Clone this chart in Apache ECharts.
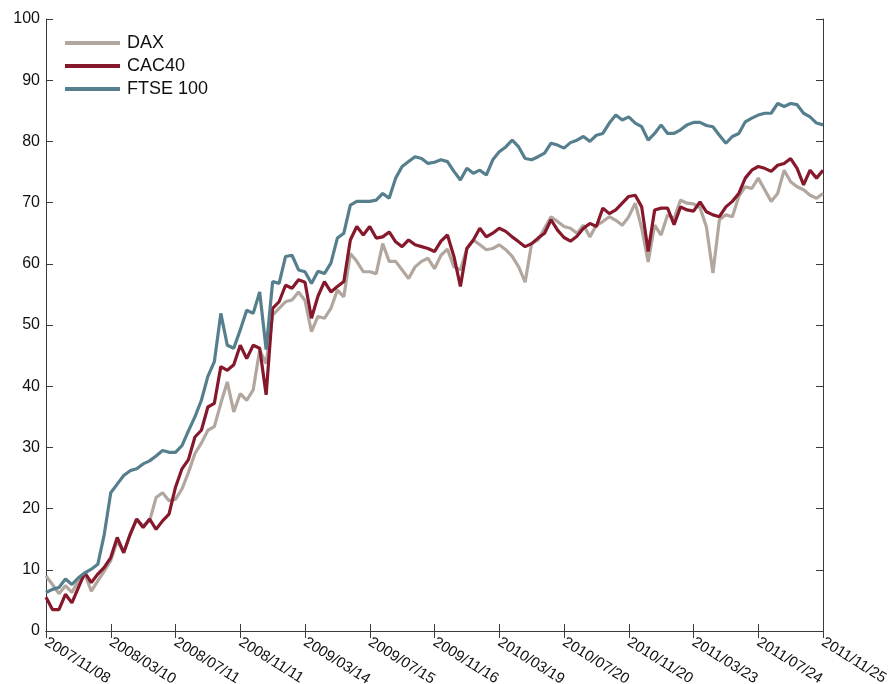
<!DOCTYPE html>
<html>
<head>
<meta charset="utf-8">
<script src="https://cdn.jsdelivr.net/npm/echarts@6/dist/echarts.min.js"></script>
<style>
  html, body { margin: 0; padding: 0; background: #fff; }
  #chart { width: 889px; height: 684px; }
</style>
</head>
<body>
<div id="chart"></div>
<script>
// tick labels shown every 10 samples along the x axis
const dateLabels = ['2007/11/08', '2008/03/10', '2008/07/11', '2008/11/11', '2009/03/14', '2009/07/15',
  '2009/11/16', '2010/03/19', '2010/07/20', '2010/11/20', '2011/03/23', '2011/07/24', '2011/11/25'];

const dax = [
  9.0, 7.6, 6.1, 7.4, 6.3, 8.2, 9.3, 6.5, 8.2, 9.8,
  11.5, 14.7, 12.8, 15.8, 18.3, 17.2, 18.0, 21.8, 22.6, 21.3,
  21.5, 23.2, 25.9, 29.0, 30.7, 32.8, 33.4, 37.2, 40.7, 35.8,
  38.8, 37.7, 39.4, 45.9, 43.7, 51.6, 52.7, 53.8, 54.1, 55.4,
  54.0, 48.9, 51.4, 51.1, 52.7, 55.7, 54.6, 61.7, 60.4, 58.7,
  58.7, 58.4, 63.3, 60.4, 60.4, 59.0, 57.6, 59.5, 60.4, 60.9,
  59.2, 61.4, 62.4, 59.5, 59.0, 62.5, 63.9, 63.1, 62.3, 62.5,
  63.1, 62.3, 61.2, 59.5, 57.0, 63.3, 63.9, 65.8, 67.7, 66.9,
  66.1, 65.8, 65.0, 66.3, 64.4, 66.3, 66.9, 67.7, 67.1, 66.3,
  67.7, 69.9, 65.8, 60.3, 66.3, 64.7, 68.0, 67.4, 70.4, 69.9,
  69.8, 69.2, 66.0, 58.5, 67.2, 68.0, 67.7, 71.0, 72.6, 72.3,
  74.0, 72.1, 70.2, 71.5, 75.3, 73.4, 72.6, 72.1, 71.2, 70.7,
  71.5
];

const cac40 = [
  5.5, 3.5, 3.5, 6.0, 4.6, 7.1, 9.5, 7.9, 9.3, 10.4,
  12.0, 15.3, 12.8, 15.8, 18.3, 16.9, 18.3, 16.6, 18.0, 19.1,
  23.5, 26.5, 28.0, 31.7, 32.8, 36.6, 37.2, 43.2, 42.6, 43.5,
  46.7, 44.5, 46.7, 46.2, 38.6, 52.7, 53.8, 56.5, 56.0, 57.4,
  57.0, 51.1, 54.7, 57.1, 55.4, 56.3, 57.1, 63.9, 66.1, 64.7,
  66.1, 64.2, 64.4, 65.2, 63.6, 62.8, 63.9, 63.1, 62.8, 62.5,
  62.0, 63.7, 64.7, 61.2, 56.3, 62.5, 63.9, 65.8, 64.4, 65.0,
  65.8, 65.3, 64.4, 63.6, 62.8, 63.3, 64.2, 65.0, 67.2, 65.5,
  64.3, 63.7, 64.5, 65.8, 66.6, 66.1, 69.1, 68.2, 68.8, 69.9,
  71.0, 71.2, 69.3, 62.0, 68.8, 69.1, 69.1, 66.4, 69.3, 68.8,
  68.6, 70.1, 68.5, 68.0, 67.7, 69.3, 70.2, 71.5, 74.0, 75.3,
  75.9, 75.6, 75.1, 76.1, 76.4, 77.2, 75.6, 72.9, 75.3, 74.0,
  75.3
];

const ftse100 = [
  6.3, 6.8, 7.1, 8.5, 7.6, 8.7, 9.5, 10.1, 10.9, 15.8,
  22.6, 24.0, 25.4, 26.2, 26.5, 27.3, 27.8, 28.6, 29.5, 29.2,
  29.2, 30.3, 32.7, 35.0, 37.7, 41.6, 44.0, 51.9, 46.7, 46.2,
  49.2, 52.4, 51.9, 55.4, 46.0, 57.1, 56.8, 61.2, 61.4, 59.0,
  58.7, 56.8, 58.8, 58.4, 60.1, 64.2, 65.0, 69.6, 70.2, 70.2,
  70.2, 70.4, 71.5, 70.7, 74.0, 75.9, 76.7, 77.5, 77.2, 76.4,
  76.6, 77.0, 76.7, 75.1, 73.7, 75.6, 74.8, 75.3, 74.5, 77.0,
  78.3, 79.1, 80.2, 79.1, 77.2, 77.0, 77.5, 78.1, 79.7, 79.4,
  78.9, 79.8, 80.2, 80.8, 80.0, 81.0, 81.3, 83.0, 84.3, 83.5,
  84.0, 83.0, 82.4, 80.2, 81.3, 82.7, 81.3, 81.3, 81.9, 82.7,
  83.1, 83.1, 82.6, 82.4, 81.0, 79.7, 80.8, 81.3, 83.2, 83.8,
  84.3, 84.6, 84.6, 86.2, 85.7, 86.2, 86.0, 84.6, 84.0, 83.0,
  82.7
];

const seriesNames = ['DAX', 'CAC40', 'FTSE 100'];
const seriesColors = ['#b1a79f', '#86182c', '#567f8e'];

const samples = dax.map((_, i) => String(i));
const step = (samples.length - 1) / (dateLabels.length - 1);

const axisColor = '#3a3a3a';
const font = 'Arial, "Liberation Sans", sans-serif';

const chart = echarts.init(document.getElementById('chart'));

const option = {
  animation: false,
  backgroundColor: '#fff',
  grid: { left: 46, right: 66, top: 19, bottom: 53, outerBoundsMode: 'none' },
  legend: {
    left: 65,
    top: 34,
    padding: 0,
    orient: 'vertical',
    icon: 'rect',
    itemWidth: 55,
    itemHeight: 4,
    itemGap: 5,
    textStyle: { fontFamily: font, fontSize: 18, color: '#111', padding: [0, 0, 0, 2] },
    data: seriesNames
  },
  xAxis: [
    {
      type: 'category',
      data: samples,
      boundaryGap: false,
      axisLine: { lineStyle: { color: axisColor, width: 1 } },
      axisTick: { inside: true, length: 7, interval: step - 1, lineStyle: { color: axisColor } },
      axisLabel: {
        interval: step - 1,
        rotate: -32,
        margin: 10,
        fontFamily: font,
        fontSize: 15,
        color: '#111',
        formatter: (v, idx) => dateLabels[Math.round(idx / step)]
      },
      splitLine: { show: false }
    },
    {
      type: 'category',
      position: 'top',
      data: samples,
      boundaryGap: false,
      axisLine: { lineStyle: { color: axisColor, width: 1 } },
      axisTick: { inside: true, length: 7, interval: step - 1, lineStyle: { color: axisColor } },
      axisLabel: { show: false },
      splitLine: { show: false }
    }
  ],
  yAxis: [
    {
      type: 'value',
      min: 0,
      max: 100,
      interval: 10,
      axisLine: { show: true, lineStyle: { color: axisColor, width: 1 } },
      axisTick: { show: true, inside: true, length: 7, lineStyle: { color: axisColor } },
      axisLabel: { margin: 6, fontFamily: font, fontSize: 16, color: '#111' },
      splitLine: { show: false }
    },
    {
      type: 'value',
      position: 'right',
      min: 0,
      max: 100,
      interval: 10,
      axisLine: { show: true, lineStyle: { color: axisColor, width: 1 } },
      axisTick: { show: true, inside: true, length: 7, lineStyle: { color: axisColor } },
      axisLabel: { show: false },
      splitLine: { show: false }
    }
  ],
  series: [dax, cac40, ftse100].map((data, k) => ({
    name: seriesNames[k],
    type: 'line',
    data: data,
    symbol: 'none',
    smooth: false,
    color: seriesColors[k],
    lineStyle: { width: 3.2, color: seriesColors[k] },
    z: 2 + k
  }))
};

chart.setOption(option);
</script>
</body>
</html>
